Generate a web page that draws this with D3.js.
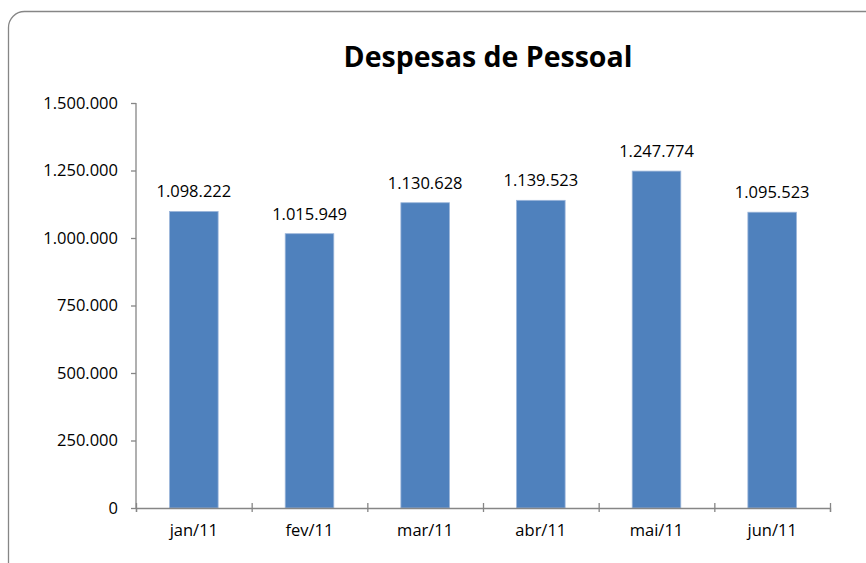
<!DOCTYPE html>
<html>
<head>
<meta charset="utf-8">
<script src="https://cdn.jsdelivr.net/npm/d3@7"></script>
<style>
  body { margin: 0; background: #fff; }
  svg { display: block; }
</style>
</head>
<body>
<div id="chart"></div>
<script>
// Despesas de Pessoal - monthly values (jan/11 .. jun/11)
const months = ["jan/11", "fev/11", "mar/11", "abr/11", "mai/11", "jun/11"];
const despesas = [1098222, 1015949, 1130628, 1139523, 1247774, 1095523];
const yTicks = [0, 250000, 500000, 750000, 1000000, 1250000, 1500000];

// brazilian number format: 1.500.000
const locale = d3.formatLocale({ decimal: ",", thousands: ".", grouping: [3], currency: ["R$", ""] });
const fmt = locale.format(",.0f");

const width = 866, height = 563;
const margin = { top: 103, right: 36, bottom: 55, left: 136 };
const font = "'Open Sans', sans-serif";
const gray = "#868686";

const svg = d3.select("#chart")
  .append("svg")
  .attr("width", width)
  .attr("height", height);

// chart frame (runs off the right and bottom edges)
svg.append("rect")
  .attr("x", 8.5).attr("y", 11.5)
  .attr("width", 900).attr("height", 600)
  .attr("rx", 16).attr("ry", 16)
  .attr("fill", "#fff")
  .attr("stroke", gray)
  .attr("stroke-width", 1.3);

// title
svg.append("text")
  .attr("x", 488)
  .attr("y", 67)
  .attr("text-anchor", "middle")
  .style("font-family", font)
  .style("font-weight", "bold")
  .style("font-size", "28.5px")
  .attr("fill", "#000")
  .text("Despesas de Pessoal");

const x = d3.scaleBand()
  .domain(months)
  .range([margin.left, width - margin.right])
  .paddingInner(0.58)
  .paddingOuter(0.29);

// category boundaries for tick marks
const xEdge = d3.scaleLinear()
  .domain([0, months.length])
  .range([margin.left, width - margin.right]);

const y = d3.scaleLinear()
  .domain([0, 1500000])
  .range([height - margin.bottom, margin.top]);

// bars
svg.append("g")
  .selectAll("rect")
  .data(despesas)
  .join("rect")
    .attr("x", (d, i) => x(months[i]))
    .attr("y", d => y(d))
    .attr("width", x.bandwidth())
    .attr("height", d => y(0) - y(d))
    .attr("fill", "#4F81BD")
    .attr("stroke", "#9BB5DA")
    .attr("stroke-width", 0.8);

// value labels
svg.append("g")
  .selectAll("text")
  .data(despesas)
  .join("text")
    .attr("x", (d, i) => x(months[i]) + x.bandwidth() / 2)
    .attr("y", d => y(d) - 14)
    .attr("text-anchor", "middle")
    .style("font-family", font)
    .style("font-size", "16.5px")
    .attr("fill", "#000")
    .text(d => fmt(d));

// y axis
const yAxis = svg.append("g")
  .attr("transform", `translate(${margin.left},0)`)
  .call(d3.axisLeft(y).tickValues(yTicks).tickFormat(fmt).tickSize(5).tickPadding(13));
yAxis.selectAll("line, path").attr("stroke", gray).attr("stroke-width", 1.3);
yAxis.select(".domain").attr("d", `M0,${y(1500000)}V${y(0)}`);
yAxis.selectAll("text")
  .style("font-family", font)
  .style("font-size", "16.5px")
  .attr("fill", "#000");

// x axis: tick marks at category edges
const xAxis = svg.append("g")
  .attr("transform", `translate(0,${y(0)})`)
  .call(d3.axisBottom(xEdge).tickValues(d3.range(months.length + 1)).tickFormat("").tickSizeOuter(0).tickSize(4));
xAxis.selectAll("line").attr("y1", -5);
xAxis.selectAll("line, path").attr("stroke", gray).attr("stroke-width", 1.3);

// x labels
const xLabels = svg.append("g")
  .attr("transform", `translate(0,${y(0)})`)
  .call(d3.axisBottom(x).tickSize(0).tickPadding(16));
xLabels.select(".domain").remove();
xLabels.selectAll("text")
  .style("font-family", font)
  .style("font-size", "16.5px")
  .attr("fill", "#000");
</script>
</body>
</html>
